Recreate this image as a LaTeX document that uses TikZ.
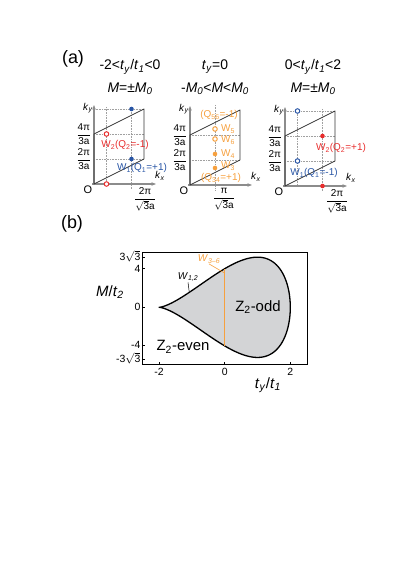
\documentclass[tikz,border=0pt]{standalone}
\usepackage{fontspec}
\setmainfont{Liberation Sans}
\usepackage{tikz}
\usetikzlibrary{arrows.meta, positioning, calc}
\definecolor{axisgray}{RGB}{140,140,140}
\definecolor{guidegray}{RGB}{160,160,160}
\definecolor{zonegray}{RGB}{55,55,55}
\definecolor{wred}{RGB}{232,45,45}
\definecolor{wblue}{RGB}{40,85,165}
\definecolor{worange}{RGB}{246,160,62}
\definecolor{phasegray}{RGB}{211,212,214}

\newcommand{\isub}[2]{\textit{#1}\textsubscript{\textit{#2}}}
\newcommand{\sqthree}{$\sqrt{\mbox{3}}$}
\newcommand{\flatthree}{\smash{$\sqrt{\mbox{3}}$}}
\newcommand{\kfrac}[2]{$\displaystyle\frac{\mbox{#1}}{\mbox{#2}}$}

\begin{document}
\begin{tikzpicture}[
        x=1bp, y=-1bp,
        >={Stealth[length=4.5bp,width=3.5bp]},
        % Axes of the three k-space panels
        kaxis/.style={draw=axisgray, line width=1.2bp, ->},
        % Outline of the zone
        zone/.style={draw=zonegray, line width=0.8bp, line join=round},
        % Dotted guide lines
        guide/.style={draw=guidegray, densely dotted, line width=0.6bp},
        % Points: open and filled
        wopen/.style={circle, draw, line width=1bp, fill=white, inner sep=0pt, minimum size=4.5bp},
        wfull/.style={circle, fill, inner sep=0pt, minimum size=4.6bp},
        lab/.style={inner sep=1bp, font=\fontsize{10}{12}\selectfont},
        ticklab/.style={inner sep=0.5bp, font=\fontsize{10}{11}\selectfont},
        numlab/.style={inner sep=0.5bp, font=\fontsize{10.5}{12}\selectfont},
        paneltitle/.style={inner sep=0pt, font=\fontsize{14}{16}\selectfont},
        biglab/.style={inner sep=0pt, font=\fontsize{15}{17}\selectfont},
        partlab/.style={inner sep=0pt, font=\fontsize{18}{20}\selectfont}
    ]
    \useasboundingbox (0,0) rectangle (415,581);

    % 1. Part labels and panel titles
    \node[partlab] (parta) at (73,59) {(a)};
    \node[partlab] (partb) at (72,224) {(b)};
    \node[paneltitle] (ta1) at (130,67) {-2<\isub{t}{y}/\isub{t}{1}<0};
    \node[paneltitle] (tb1) at (130,89) {\textit{M}=±\isub{M}{0}};
    \node[paneltitle] (ta2) at (215,67) {\isub{t}{y}=0};
    \node[paneltitle] (tb2) at (215,89) {-\isub{M}{0}<\textit{M}<\isub{M}{0}};
    \node[paneltitle] (ta3) at (313,67) {0<\isub{t}{y}/\isub{t}{1}<2};
    \node[paneltitle] (tb3) at (313,89) {\textit{M}=±\isub{M}{0}};

    % 2. Guide lines (panels 1 and 3 share them)
    \foreach \ox/\oy in {94/184, 285/186} {
        \begin{scope}[shift={(\ox,\oy)}]
            \foreach \ky in {25,50,75}
                \draw[guide] (0,-\ky) -- (50,-\ky);
            \draw[guide] (12.5,-77) -- (12.5,0);
            \draw[guide] (37.5,-77) -- (37.5,6);
        \end{scope}
    }
    \begin{scope}[shift={(190,185)}]
        \foreach \ky in {25,50}
            \draw[guide] (0,-\ky) -- (50,-\ky);
        \draw[guide] (25,-80) -- (25,6);
    \end{scope}

    % 3. Axes, zone and tick labels of each k-space panel
    \foreach \pn/\ox/\oy/\kx/\kxlab in {1/94/184/51/2π, 2/190/185/34/π, 3/285/186/52/2π} {
        \begin{scope}[shift={(\ox,\oy)}]
            \draw[kaxis] (-2,0) -- (62,0);
            \draw[kaxis] (0,1) -- (0,-79);
            \draw[zone] (0,0) -- (50,-25) -- (50,-75) -- (0,-50) -- cycle;
            \node[lab] (ky\pn) at (-6,-76) {\isub{k}{y}};
            \node[lab] (kx\pn) at (66,-8) {\isub{k}{x}};
            \node[lab, font=\fontsize{11}{12}\selectfont] (o\pn) at (-6,6) {O};
            \node[ticklab, anchor=east] (fy2\pn) at (-2,-25) {\kfrac{2π}{3a}};
            \node[ticklab, anchor=east] (fy4\pn) at (-2,-50) {\kfrac{4π}{3a}};
            \node[ticklab, anchor=north] (fx\pn) at (\kx,3) {\kfrac{\kxlab}{\sqthree a}};
        \end{scope}
    }

    % 4. Points and their labels, panel 1
    \begin{scope}[shift={(94,184)}]
        \node[wopen, draw=wred] (p1a) at (12.5,-50) {};
        \node[wopen, draw=wred] (p1b) at (12.5,0) {};
        \node[wfull, fill=wblue] (p1c) at (37.5,-75) {};
        \node[wfull, fill=wblue] (p1d) at (37.5,-25) {};
        \node[lab, text=wred] (w2a) at (31,-39) {W\textsubscript{2}(Q\textsubscript{2}=-1)};
        \node[lab, text=wblue] (w1a) at (48,-16) {W\textsubscript{1}(Q\textsubscript{1}=+1)};
    \end{scope}

    % 5. Points and their labels, panel 2
    \begin{scope}[shift={(190,185)}]
        \node[wopen, draw=worange] (p2a) at (25,-56) {};
        \node[wopen, draw=worange] (p2b) at (25,-46) {};
        \node[wfull, fill=worange] (p2c) at (25,-31) {};
        \node[wfull, fill=worange] (p2d) at (25,-17) {};
        \node[lab, text=worange] (q56) at (29,-70) {(Q\textsubscript{56}=-1)};
        \node[lab, text=worange, anchor=west] (w5) at (30,-56) {W\textsubscript{5}};
        \node[lab, text=worange, anchor=west] (w6) at (30,-45) {W\textsubscript{6}};
        \node[lab, text=worange, anchor=west] (w4) at (30,-31) {W\textsubscript{4}};
        \node[lab, text=worange, anchor=west] (w3) at (30,-19) {W\textsubscript{3}};
        \node[lab, text=worange] (q34) at (31,-7) {(Q\textsubscript{34}=+1)};
    \end{scope}

    % 6. Points and their labels, panel 3
    \begin{scope}[shift={(285,186)}]
        \node[wopen, draw=wblue] (p3a) at (12.5,-75) {};
        \node[wopen, draw=wblue] (p3b) at (12.5,-25) {};
        \node[wfull, fill=wred] (p3c) at (37.5,-50) {};
        \node[wfull, fill=wred] (p3d) at (37.5,0) {};
        \node[lab, text=wred] (w2c) at (56,-38) {W\textsubscript{2}(Q\textsubscript{2}=+1)};
        \node[lab, text=wblue] (w1c) at (29,-13) {W\textsubscript{1}(Q\textsubscript{1}=-1)};
    \end{scope}

    % 7. Phase diagram (b)
    \begin{scope}[shift={(224.7,307.3)}, x=32.8bp, y=9.65bp]
        \fill[phasegray] plot[domain=0:360, samples=181, smooth]
            ({-2*cos(\x)},{4*(1-cos(\x))*sin(\x)}) -- cycle;
        \draw[line width=1.3bp, line join=round] plot[domain=0:360, samples=181, smooth]
            ({-2*cos(\x)},{4*(1-cos(\x))*sin(\x)}) -- cycle;
        \draw[worange, line width=1.4bp] (0,-4) -- (0,4);
        \draw[line width=0.5bp] (-2.52,-5.95) rectangle (2.52,5.72);
        \foreach \t in {-2,0,2} {
            \draw[line width=0.5bp] (\t,-5.95) -- (\t,-5.65);
            \node[numlab, anchor=north] (tx\t) at (\t,-6.2) {\t};
        }
        \foreach \m/\mlab in {5.196/3\flatthree, 4/4, 0/0, -3.9/-4, -5.35/-3\flatthree} {
            \draw[line width=0.5bp] (-2.52,\m) -- (-2.43,\m);
            \node[numlab, anchor=east] at (-2.55,\m) {\mlab};
        }
        \coordinate (w12pt) at (-1.08,1.55);
        \coordinate (w36pt) at (-0.03,3.6);
    \end{scope}
    \node[biglab] (ylab) at (110,292) {\textit{M}/\isub{t}{2}};
    \node[biglab] (xlab) at (268,385) {\isub{t}{y}/\isub{t}{1}};
    \node[biglab] (odd) at (258,307) {Z\textsubscript{2}-odd};
    \node[biglab] (even) at (183,347) {Z\textsubscript{2}-even};
    \node[lab, inner sep=0.5bp] (w12) at (188,277) {\isub{W}{1,2}};
    \node[lab, inner sep=0.5bp, text=worange] (w36) at (209,259) {\textit{W}\textsubscript{\textit{3--6}}};
    \draw[line width=0.5bp] (w12.south) -- (w12pt);
    \draw[worange, line width=0.6bp] (w36.south) -- ++(6,3.5) -- (w36pt);

\end{tikzpicture}
\end{document}
